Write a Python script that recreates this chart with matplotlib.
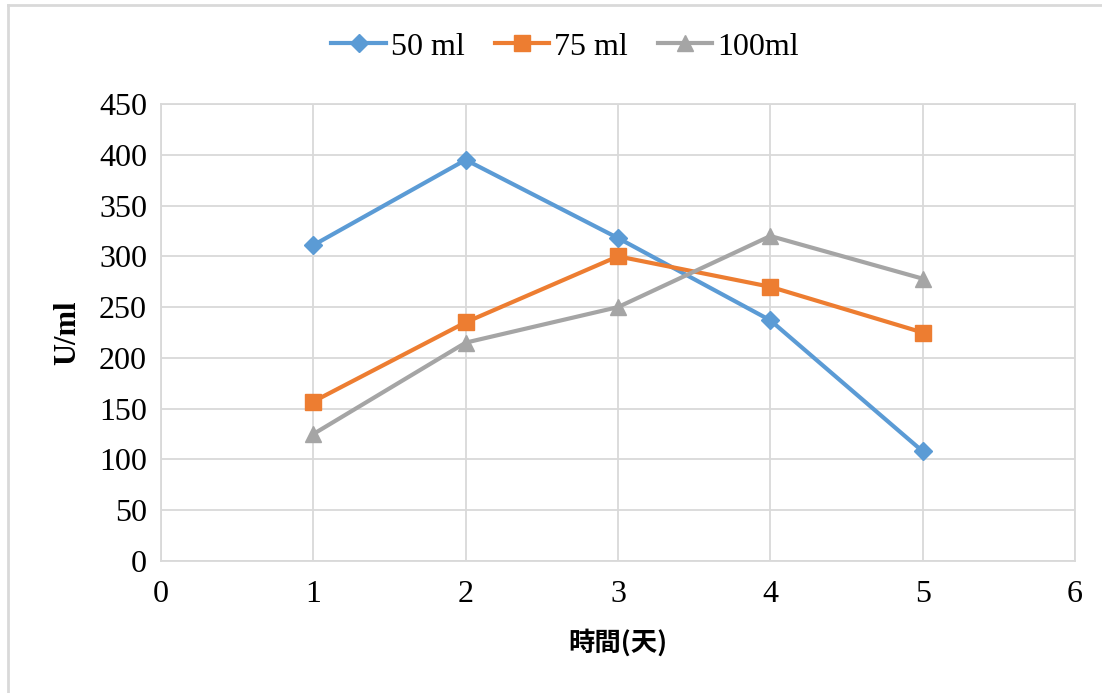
import matplotlib.pyplot as plt
from matplotlib.lines import Line2D

days = [1, 2, 3, 4, 5]
ml50 = [311, 395, 318, 237, 108]
ml75 = [157, 235, 300, 270, 225]
ml100 = [125, 215, 250, 320, 278]
labels = ['50 ml', '75 ml', '100ml']

plt.rcParams['font.family'] = ['Liberation Serif', 'Noto Sans CJK TC']

fig = plt.figure(figsize=(11.02, 6.93), dpi=100)
ax = fig.add_axes([161/1102, 1-561/693, (1075-161)/1102, (561-104)/693])

ax.plot(days, ml50, color='#5B9BD5', lw=3, marker='D', ms=9, label=labels[0])
ax.plot(days, ml75, color='#ED7D31', lw=3, marker='s', ms=11, label=labels[1])
ax.plot(days, ml100, color='#A5A5A5', lw=3, marker='^', ms=12, label=labels[2])

ax.set_xlim(0, 6)
ax.set_ylim(0, 450)
ax.set_xticks(range(0, 7))
ax.set_yticks(range(0, 451, 50))
ax.grid(True, color='#D9D9D9', lw=1.3)
ax.set_axisbelow(True)
for s in ax.spines.values():
    s.set_color('#D9D9D9')
    s.set_linewidth(1.3)
ax.tick_params(length=0, labelsize=23)
ax.tick_params(axis='x', pad=14)
ax.tick_params(axis='y', pad=10)

ax.set_ylabel('U/ml', fontsize=22, fontweight='bold', labelpad=12)
ax.set_xlabel('時間(天)', fontsize=19, fontweight='bold', labelpad=14,
              family=['Noto Sans CJK TC', 'Liberation Serif'])

fig.legend(*ax.get_legend_handles_labels(), loc='center',
           bbox_to_anchor=(565/1102, 1-47/693), ncol=3, frameon=False,
           fontsize=23, handlelength=1.7, handletextpad=0.15, columnspacing=0.95)

# outer frame (left and top edges visible)
fig.add_artist(Line2D([8/1102, 8/1102], [0, 1-5/693], color='#D9D9D9', lw=2))
fig.add_artist(Line2D([8/1102, 1], [1-5/693, 1-5/693], color='#D9D9D9', lw=2))

plt.savefig('out.png', dpi=100)
